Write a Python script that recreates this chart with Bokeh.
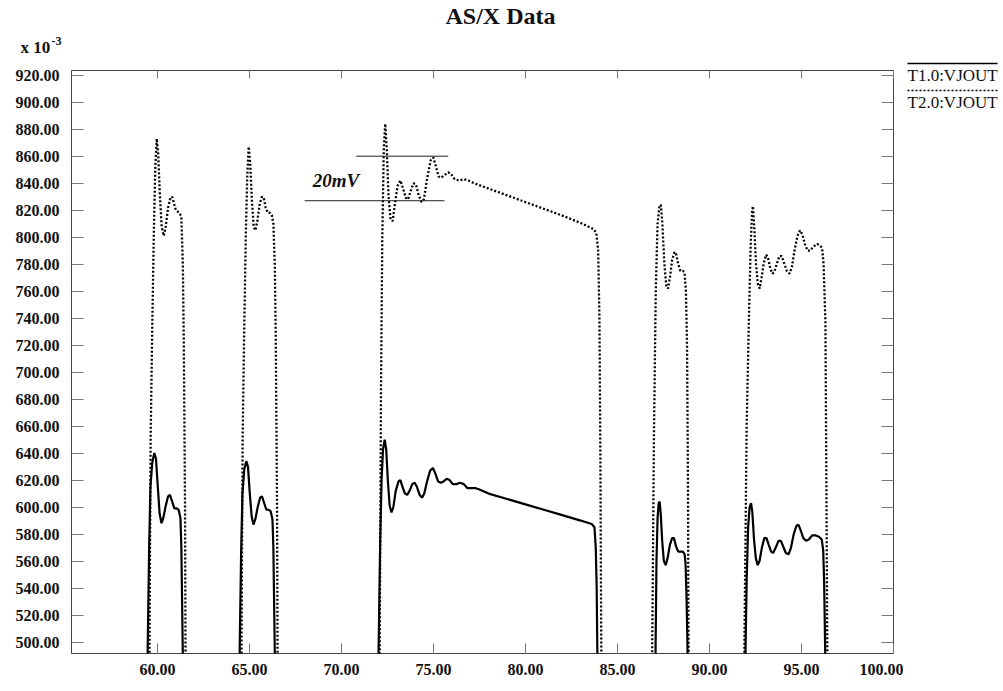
from bokeh.plotting import figure
from bokeh.models import Range1d, LinearAxis, FixedTicker, PrintfTickFormatter
from bokeh.layouts import column, row
from bokeh.core.properties import value
from bokeh.embed import file_html
from bokeh.resources import INLINE

# ---------------- data ----------------
title_text = "AS/X Data"
scale_text = "x 10"
scale_exp = "-3"
series_names = ["T1.0:VJOUT", "T2.0:VJOUT"]
x_ticks = [60, 65, 70, 75, 80, 85, 90, 95, 100]
y_ticks = [500, 520, 540, 560, 580, 600, 620, 640, 660, 680, 700, 720, 740,
           760, 780, 800, 820, 840, 860, 880, 900, 920]

# T1.0:VJOUT (solid), values in units of 1e-3 V
t1_time = [
    59.40, 59.47, 59.55, 59.62, 59.72, 59.83, 59.92, 60.02, 60.12, 60.22, 60.32, 60.45,
    60.58, 60.68, 60.80, 60.92, 61.05, 61.15, 61.25, 61.30, 61.35, 61.38, 61.45,
    64.40, 64.47, 64.55, 64.62, 64.72, 64.83, 64.92, 65.02, 65.12, 65.22, 65.32, 65.45,
    65.58, 65.68, 65.80, 65.92, 66.05, 66.15, 66.25, 66.30, 66.35, 66.38, 66.45,
    71.95, 72.02, 72.10, 72.18, 72.26, 72.35, 72.43, 72.52, 72.62, 72.72, 72.82, 72.95,
    73.10, 73.20, 73.32, 73.45, 73.57, 73.70, 73.85, 73.98, 74.10, 74.25, 74.38, 74.50,
    74.65, 74.82, 74.97, 75.10, 75.25, 75.40, 75.55, 75.72, 75.88, 76.05, 76.25, 76.45,
    76.65, 76.85, 77.10, 77.30, 77.50, 78.00, 79.00, 80.00, 81.00, 82.00, 83.00, 83.60,
    83.75, 83.82, 83.87, 83.90, 83.92, 84.00,
    87.00, 87.07, 87.12, 87.18, 87.24, 87.29, 87.35, 87.43, 87.52, 87.62, 87.72, 87.85,
    87.97, 88.07, 88.18, 88.30, 88.42, 88.55, 88.65, 88.70, 88.75, 88.80, 88.82, 88.90,
    91.90, 91.96, 92.02, 92.10, 92.18, 92.26, 92.33, 92.42, 92.52, 92.62, 92.72, 92.85,
    92.98, 93.10, 93.22, 93.35, 93.46, 93.60, 93.75, 93.88, 94.00, 94.15, 94.30, 94.43,
    94.58, 94.72, 94.83, 94.95, 95.10, 95.25, 95.40, 95.58, 95.78, 95.95, 96.10, 96.18,
    96.23, 96.27, 96.30, 96.38,
]
t1_mv = [
    0, 495, 570, 615, 633, 640, 636, 615, 595, 588, 592, 601,
    608, 609, 604, 599, 599, 598, 592, 570, 520, 490, 0,
    0, 495, 568, 610, 628, 634, 630, 610, 593, 587, 591, 600,
    607, 608, 603, 598, 598, 597, 591, 570, 520, 490, 0,
    0, 495, 570, 620, 643, 650, 643, 620, 601, 596, 600, 612,
    619, 620, 615, 610, 609, 612, 617, 618, 615, 609, 607, 610,
    619, 627, 629, 625, 619, 618, 619, 621, 620, 617, 617, 618,
    617, 614, 614, 614, 613, 610, 606, 602, 598, 594, 590, 587.5,
    585, 570, 540, 500, 480, 0,
    0, 495, 560, 592, 603, 604, 595, 575, 560, 557, 562, 572,
    577, 577, 571, 567, 567, 567, 565, 558, 535, 500, 480, 0,
    0, 495, 545, 585, 600, 603, 596, 576, 562, 557, 560, 570,
    577, 577, 572, 567, 566, 570, 575, 575, 571, 566, 565, 570,
    580, 586, 587, 583, 577, 575, 576, 579, 579, 578, 576, 568,
    545, 510, 480, 0,
]

# T2.0:VJOUT (dotted), values in units of 1e-3 V
t2_time = [
    59.50, 59.57, 59.63, 59.71, 59.80, 59.88, 59.96, 60.04, 60.13, 60.23, 60.34, 60.45,
    60.58, 60.70, 60.80, 60.90, 61.00, 61.10, 61.20, 61.30, 61.38, 61.43, 61.50, 61.53, 61.60,
    64.50, 64.57, 64.63, 64.71, 64.80, 64.88, 64.96, 65.04, 65.13, 65.23, 65.32, 65.43,
    65.56, 65.68, 65.78, 65.88, 66.00, 66.12, 66.22, 66.30, 66.38, 66.43, 66.50, 66.53, 66.60,
    72.00, 72.08, 72.15, 72.22, 72.30, 72.38, 72.46, 72.56, 72.67, 72.78, 72.90, 73.05,
    73.20, 73.35, 73.50, 73.62, 73.78, 73.92, 74.05, 74.20, 74.35, 74.48, 74.65, 74.85,
    75.00, 75.12, 75.28, 75.42, 75.60, 75.80, 75.95, 76.15, 76.40, 76.65, 76.90, 77.20,
    78.00, 79.00, 80.00, 81.00, 82.00, 83.00, 83.70, 83.85, 83.95, 84.02, 84.07, 84.11,
    84.13, 84.20,
    86.82, 86.89, 86.98, 87.08, 87.18, 87.28, 87.36, 87.44, 87.55, 87.66, 87.75, 87.85,
    87.97, 88.10, 88.20, 88.30, 88.42, 88.55, 88.64, 88.72, 88.78, 88.83, 88.86, 88.88, 88.95,
    91.82, 91.90, 92.02, 92.14, 92.24, 92.32, 92.36, 92.43, 92.53, 92.63, 92.73, 92.83,
    92.95, 93.08, 93.18, 93.30, 93.42, 93.52, 93.65, 93.80, 93.92, 94.05, 94.20, 94.35,
    94.48, 94.62, 94.78, 94.92, 95.05, 95.18, 95.33, 95.48, 95.65, 95.85, 96.00, 96.12,
    96.20, 96.27, 96.30, 96.36, 96.40, 96.42, 96.50,
]
t2_mv = [
    0, 500, 650, 726, 800, 850, 873, 862, 832, 808, 801, 808,
    822, 829, 830, 825, 820, 819, 818, 815, 780, 726, 600, 480, 0,
    0, 500, 650, 726, 800, 845, 867, 855, 828, 808, 805, 812,
    825, 830, 829, 822, 818, 818, 816, 810, 778, 726, 600, 480, 0,
    0, 500, 690, 800, 865, 884, 866, 830, 813, 812, 824, 838,
    842, 836, 829, 828, 835, 840, 839, 831, 826, 828, 843, 857,
    859, 853, 845, 844, 846, 848, 847, 843, 842, 843, 842, 840,
    836, 831, 826, 821, 816, 810.5, 806, 803, 790, 740, 640, 520,
    480, 0,
    0, 500, 650, 760, 810, 823, 824, 810, 780, 763, 762, 770,
    783, 789, 787, 780, 775, 775, 774, 760, 720, 620, 500, 480, 0,
    0, 500, 660, 738, 795, 820, 823, 808, 780, 765, 762, 770,
    781, 787, 785, 777, 773, 774, 780, 786, 786, 781, 775, 773,
    778, 790, 801, 805, 802, 795, 790, 790, 793, 795, 794, 792,
    780, 750, 738, 600, 500, 480, 0,
]

# hand-drawn "20mV" marker on the reference
note_text = ["20mV"]
note_level = [860, 827]
note_start = [70.8, 68.0]
note_end = [75.8, 75.6]

# ---------------- layout (pixels) ----------------
W, H = 1003, 691
HEAD = 60            # header strip height (title, multiplier)
FL, FR = 71, 893     # frame left/right
FT, FB = 70, 653     # frame top/bottom
LEG_W = 100
X0, X1 = 55.33, 100.0
Y0, Y1 = 491.5, 923.5
SERIF = "Liberation Serif"
INK = "#111111"


def blank_fig(w, h):
    f = figure(width=w, height=h, x_range=Range1d(0, w), y_range=Range1d(h, 0),
               output_backend="svg", toolbar_location=None,
               min_border=0, min_border_left=0, min_border_right=0,
               min_border_top=0, min_border_bottom=0,
               x_axis_location=None, y_axis_location=None)
    f.grid.visible = False
    f.outline_line_color = None
    f.background_fill_color = "white"
    f.border_fill_color = "white"
    f.frame_align = False
    return f


main_w = W - LEG_W
main_h = H - HEAD

# header: title and the x 10^-3 multiplier
head = blank_fig(main_w, HEAD)
head.text(x=[500], y=[15], text=[title_text], text_font=value(SERIF),
          text_font_style="bold", text_font_size="24px", text_align="center",
          text_baseline="middle", text_color=INK)
head.text(x=[20], y=[47], text=[scale_text], text_font=value(SERIF),
          text_font_style="bold", text_font_size="17px", text_align="left",
          text_baseline="middle", text_color=INK)
head.text(x=[51], y=[40], text=[scale_exp], text_font=value(SERIF),
          text_font_style="bold", text_font_size="12px", text_align="left",
          text_baseline="middle", text_color=INK)

# main plot
p = figure(width=main_w, height=main_h, x_range=Range1d(X0, X1),
           y_range=Range1d(Y0, Y1), output_backend="svg", toolbar_location=None,
           min_border_left=FL, min_border_right=main_w - FR,
           min_border_top=FT - HEAD, min_border_bottom=H - FB,
           x_axis_location=None, y_axis_location=None)
p.grid.visible = False
p.outline_line_color = "#444444"
p.outline_line_width = 1
p.background_fill_color = "white"
p.border_fill_color = "white"

fmt = PrintfTickFormatter(format="%.2f")


def style_axis(ax, ticks, tick_in, labels=True):
    ax.ticker = FixedTicker(ticks=ticks)
    ax.formatter = fmt
    ax.axis_line_color = None
    ax.major_tick_in = tick_in
    ax.major_tick_out = 0
    ax.major_tick_line_color = "#7a7a7a"
    ax.major_tick_line_width = 1
    ax.minor_tick_line_color = None
    ax.major_label_text_font = SERIF
    if labels:
        ax.major_label_text_font_size = "16px"
        ax.major_label_text_font_style = "bold"
        ax.major_label_text_color = INK
    else:
        ax.major_label_text_font_size = "0px"
        ax.major_label_text_color = None
        ax.major_label_standoff = 0


bottom = LinearAxis()
style_axis(bottom, x_ticks, 10)
bottom.major_label_standoff = 10
p.add_layout(bottom, "below")

top = LinearAxis()
style_axis(top, x_ticks, 8, labels=False)
p.add_layout(top, "above")

left = LinearAxis()
style_axis(left, y_ticks, 12)
left.major_label_standoff = 12
p.add_layout(left, "left")

right = LinearAxis()
style_axis(right, y_ticks, 12, labels=False)
p.add_layout(right, "right")

# traces
p.line(t1_time, t1_mv, line_color="black", line_width=2.2)
p.line(t2_time, t2_mv, line_color="black", line_width=2.3, line_dash="2 2")

# handwritten note
p.segment(x0=note_start, y0=note_level, x1=note_end, y1=note_level,
          line_color="#222222", line_width=1)
p.text(x=[69.7], y=[842], text=note_text, text_font=value(SERIF),
       text_font_style="bold italic", text_font_size="19px", text_align="center",
       text_baseline="middle", text_color=INK)

# legend strip at the right, full height (a line drawn above each name)
leg = blank_fig(LEG_W, H)
for i, (name, dash) in enumerate(zip(series_names, ["solid", "2 2"])):
    ly = 63 + 27 * i
    leg.line(x=[907 - main_w, 997 - main_w], y=[ly, ly], line_color="black",
             line_width=1.5, line_dash=dash)
    leg.text(x=[907 - main_w], y=[ly + 12], text=[name], text_font=value(SERIF),
             text_font_size="17px", text_align="left", text_baseline="middle",
             text_color=INK)

layout = row(column(head, p, spacing=0), leg, spacing=0)
open("out.html", "w").write(file_html(layout, INLINE))
